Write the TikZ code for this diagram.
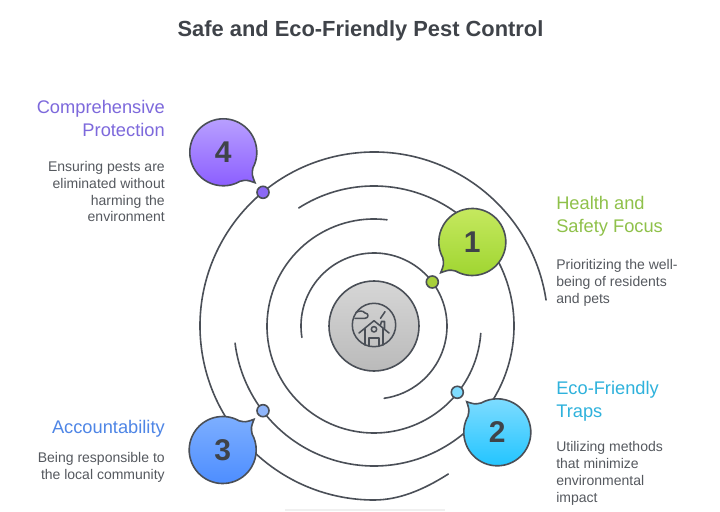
\documentclass[tikz,border=0pt]{standalone}
\usepackage{fontspec}
\setmainfont{Liberation Sans}
\usetikzlibrary{calc}
\definecolor{ink}{HTML}{4A4F57}
\definecolor{bodyc}{HTML}{55595F}
\definecolor{titlec}{HTML}{3F4349}
\definecolor{gA}{HTML}{8FC14A}
\definecolor{bA}{HTML}{2FB2DC}
\definecolor{cA}{HTML}{4F86E6}
\definecolor{dA}{HTML}{7D69DC}
\definecolor{gT}{HTML}{C8EA62}\definecolor{gB}{HTML}{9DD42E}
\definecolor{bT}{HTML}{7FDCFF}\definecolor{bB}{HTML}{1CC3FF}
\definecolor{cT}{HTML}{80B1FF}\definecolor{cB}{HTML}{4A8BFF}
\definecolor{dT}{HTML}{BBA4FF}\definecolor{dB}{HTML}{8B5DFF}
\definecolor{gD}{HTML}{A7CF3A}\definecolor{bD}{HTML}{7FDCFF}
\definecolor{cD}{HTML}{8FB5FA}\definecolor{dD}{HTML}{8B68F5}
\newcommand{\bubble}[8]{%
  \pgfmathsetmacro{\ang}{atan2((#5)-(#3),(#4)-(#2))}
  \path[draw=ink,line width=1.2pt,top color=#6,bottom color=#7]
    (#2,#3) ++(\ang+16:33.5) arc[start angle=\ang+16,delta angle=328,radius=33.5]
    .. controls ($(#2,#3)+(\ang-6:36)$) .. (#4,#5)
    .. controls ($(#2,#3)+(\ang+6:36)$) .. cycle;
  \node[numlab] (#1) at (#2,#3) {#8};
}
\tikzset{
  x=.75pt,y=.75pt,
  ring/.style={draw=ink,line width=1.2pt,line cap=round},
  icon/.style={draw=ink,line width=1.15pt,line cap=round,line join=round},
  numlab/.style={font=\fontsize{22.5}{24}\selectfont\bfseries,text=titlec,inner sep=0pt},
  dot/.style={circle,draw=ink,line width=1.2pt,minimum size=9pt,inner sep=0pt},
  head/.style={inner sep=0pt,font=\fontsize{13.7}{17.3}\selectfont,align=#1},
  bodytxt/.style={inner sep=0pt,text=bodyc,font=\fontsize{10.5}{12.7}\selectfont,align=#1},
}
\begin{document}
\begin{tikzpicture}
\useasboundingbox (0,0) rectangle (720,511);
\fill[white] (0,0) rectangle (720,511);
\fill[black!6] (285,0) rectangle (445,2);
\node[inner sep=0pt,anchor=base,text=titlec,font=\fontsize{16.4}{20}\selectfont\bfseries] (title) at (360.5,474) {Safe and Eco-Friendly Pest Control};
\coordinate (c) at (374,185);
% rings
\draw[ring] (c) ++(189:73) arc[start angle=189,end angle=-82,radius=73];
\draw[ring] (c) ++(83:107) arc[start angle=83,end angle=356,radius=107];
\draw[ring] (c) ++(122.5:140) arc[start angle=122.5,end angle=-173,radius=140];
\draw[ring] (c) ++(8.6:174) arc[start angle=8.6,end angle=270,radius=174] .. controls (398.7,11) and (423.3,21) .. (448.3,37);
% core
\node[circle,draw=ink,line width=1.2pt,minimum size=67.5pt,inner sep=0pt,top color=black!16,bottom color=black!27] (core) at (c) {};
% icon
\begin{scope}[shift={(374,186)},icon]
 \draw (0,0) circle[radius=21.7];
 \draw (-15,-8) -- (0,4.3) -- (15,-8);
 \draw (-9,-3.5) -- (-9,-20);
 \draw (9,-3.5) -- (9,-20);
 \draw (-5,-21) -- (-5,-13) -- (5,-13) -- (5,-21);
 \draw (0,-4.3) circle[radius=2.7];
 \draw (6.5,0) -- (7.5,3.5) -- (10.5,3.5) -- (10.5,-3.5);
 \draw (-19,6.7) -- (-9,6.7) .. controls (-5,6.7) and (-5,12) .. (-9,12) .. controls (-11,15) and (-16,14) .. (-18,12.5);
 \draw (6.5,6.7) -- (11,13.3);
\end{scope}
% bubbles
\bubble{n1}{472.3}{269}{440.7}{238.3}{gT}{gB}{1}
\bubble{n2}{497.3}{78.7}{466.7}{109.3}{bT}{bB}{2}
\bubble{n3}{222.7}{61}{254}{91.7}{cT}{cB}{3}
\bubble{n4}{223.3}{358.7}{255}{328.3}{dT}{dB}{4}
% dots
\node[dot,fill=gD] (d1) at (432.3,229) {};
\node[dot,fill=bD] (d2) at (457.3,118.7) {};
\node[dot,fill=cD] (d3) at (263,100.3) {};
\node[dot,fill=dD] (d4) at (263,318.7) {};
% labels
\node[head=right,anchor=base east,text=dA] (h4) at (165,374) {Comprehensive\\Protection};
\node[bodytxt=right,anchor=base east] (t4) at (165,289) {Ensuring pests are\\eliminated without\\harming the\\environment};
\node[head=left,anchor=base west,text=gA] (h1) at (556,278) {Health and\\Safety Focus};
\node[bodytxt=left,anchor=base west] (t1) at (556,208) {Prioritizing the well-\\being of residents\\and pets};
\node[head=left,anchor=base west,text=bA] (h2) at (556,93.5) {Eco-Friendly\\Traps};
\node[bodytxt=left,anchor=base west] (t2) at (556,9) {Utilizing methods\\that minimize\\environmental\\impact};
\node[head=right,anchor=base east,text=cA] (h3) at (165,78) {Accountability};
\node[bodytxt=right,anchor=base east] (t3) at (165,32) {Being responsible to\\the local community};
\end{tikzpicture}
\end{document}
